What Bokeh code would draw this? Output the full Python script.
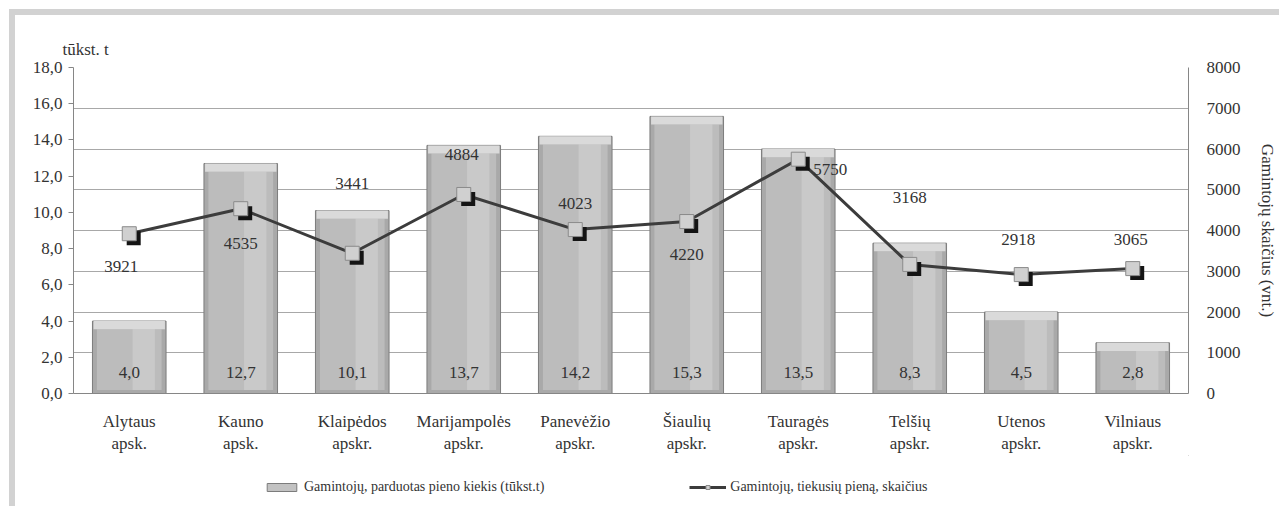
from bokeh.plotting import figure
from bokeh.layouts import column
from bokeh.models import (Range1d, FactorRange, LinearAxis, CategoricalAxis, SingleIntervalTicker,
                          CustomJSTickFormatter, ColumnDataSource, LabelSet, Legend,
                          LegendItem, Grid)
from bokeh.transform import dodge
from bokeh.embed import file_html
from bokeh.resources import INLINE

# ---- data ----
category_line1 = ["Alytaus", "Kauno", "Klaipėdos", "Marijampolės", "Panevėžio",
                  "Šiaulių", "Tauragės", "Telšių", "Utenos", "Vilniaus"]
category_line2 = ["apsk.", "apsk.", "apskr.", "apskr.", "apskr.",
                  "apskr.", "apskr.", "apskr.", "apskr.", "apskr."]
milk_sold_kt = [4.0, 12.7, 10.1, 13.7, 14.2, 15.3, 13.5, 8.3, 4.5, 2.8]
producers = [3921, 4535, 3441, 4884, 4023, 4220, 5750, 3168, 2918, 3065]
series_names = ["Gamintojų, parduotas pieno kiekis (tūkst.t)",
                "Gamintojų, tiekusių pieną, skaičius"]
left_unit = "tūkst. t"
right_title = "Gamintojų skaičius (vnt.)"

# label placement (pixels) for the producer-count labels
lbl_dx = [-8, 0, 0, -2, 0, 0, 32, 0, -3, -2]
lbl_dy = [-33, -35, 70, 40, 26, -33, -10, 67, 35, 29]

FONT = "Liberation Serif"
TXT = "#333333"
AX = "#868686"

src = ColumnDataSource(dict(
    cat=category_line1,
    milk=milk_sold_kt,
    milk_in=[v - 0.45 for v in milk_sold_kt],
    prod=producers,
    milk_lbl=[f"{v:.1f}".replace(".", ",") for v in milk_sold_kt],
    prod_lbl=[str(v) for v in producers],
    dx=lbl_dx, dy=lbl_dy,
))

p = figure(width=1264, height=440, x_range=FactorRange(*category_line1),
           y_range=Range1d(0, 18), output_backend="svg", toolbar_location=None,
           min_border_left=58, min_border_right=88, min_border_top=52, min_border_bottom=62)
p.extra_y_ranges = {"r": Range1d(0, 8000)}
p.outline_line_color = None
p.background_fill_color = "white"
p.border_fill_color = "white"

# title used as the left unit label
p.title.text = left_unit
p.title.text_font = FONT
p.title.text_font_size = "17px"
p.title.text_font_style = "normal"
p.title.text_color = TXT
p.title.offset = -11
p.title.standoff = 18

# grid follows the right axis
p.xgrid.visible = False
p.ygrid.visible = False

BAR_FILL, BAR_LINE = "#a9a9a9", "#7c7c7c"
p.vbar(x="cat", top="milk", width=0.66, source=src,
       fill_color=BAR_FILL, line_color=BAR_LINE, line_width=1)
p.vbar(x="cat", top="milk_in", bottom=0.2, width=0.58, source=src,
       fill_color="#bcbcbc", line_color=None)
p.vbar(x=dodge("cat", 0.13, range=p.x_range), top="milk_in", bottom=0.2, width=0.2, source=src,
       fill_color="#c9c9c9", line_color=None)
p.vbar(x="cat", top="milk", bottom="milk_in", width=0.64, source=src,
       fill_color="#dadada", line_color=None)

LINE_C = "#3c3c3c"
p.line(x="cat", y="prod", y_range_name="r", source=src, line_color=LINE_C, line_width=3)
p.scatter(x=dodge("cat", 0.04, range=p.x_range), y=dodge("prod", -110), y_range_name="r",
          source=src, marker="square", size=14, fill_color="#141414", line_color=None)
p.scatter(x="cat", y="prod", y_range_name="r", source=src, marker="square", size=14,
          fill_color="#d0d0d0", line_color="#8a8a8a", line_width=1)

# x axes: two label lines
xa = p.xaxis[0]
xa.major_tick_line_color = None
xa.major_tick_out = 0
xa.major_tick_in = 0
xa.minor_tick_line_color = None
xa.axis_line_color = AX
xa.major_label_standoff = 18
xa.major_label_text_font = FONT
xa.major_label_text_font_size = "17px"
xa.major_label_text_color = TXT

xa2 = CategoricalAxis(formatter=CustomJSTickFormatter(
    args=dict(keys=category_line1, vals=category_line2),
    code="return vals[keys.indexOf(tick)];"))
xa2.axis_line_color = None
xa2.major_tick_line_color = None
xa2.major_tick_out = 0
xa2.major_tick_in = 0
xa2.minor_tick_line_color = None
xa2.major_label_standoff = 0
xa2.major_label_text_font = FONT
xa2.major_label_text_font_size = "17px"
xa2.major_label_text_color = TXT
p.add_layout(xa2, "below")

# left axis
p.yaxis.ticker = SingleIntervalTicker(interval=2)
p.yaxis.formatter = CustomJSTickFormatter(code="return tick.toFixed(1).replace('.', ',');")
p.yaxis.major_tick_out = 5
p.yaxis.major_tick_in = 0
p.yaxis.major_tick_line_color = AX
p.yaxis.minor_tick_line_color = None
p.yaxis.axis_line_color = AX
p.yaxis.major_label_standoff = 6
p.yaxis.major_label_text_font = FONT
p.yaxis.major_label_text_font_size = "17px"
p.yaxis.major_label_text_color = TXT

# right axis
ra = LinearAxis(y_range_name="r", ticker=SingleIntervalTicker(interval=1000),
                axis_label=right_title)
ra.major_tick_line_color = None
ra.minor_tick_line_color = None
ra.axis_line_color = AX
ra.major_label_standoff = 12
ra.major_label_text_font = FONT
ra.major_label_text_font_size = "17px"
ra.major_label_text_color = TXT
ra.axis_label_text_font = FONT
ra.axis_label_text_font_size = "17px"
ra.axis_label_text_font_style = "normal"
ra.axis_label_text_color = TXT
ra.axis_label_standoff = 14
p.add_layout(ra, "right")

p.add_layout(Grid(dimension=1, ticker=ra.ticker, y_range_name="r",
                  grid_line_color="#a8a8a8", grid_line_width=1))

# value labels
p.add_layout(LabelSet(x="cat", y=0, text="milk_lbl", source=src, y_offset=21,
                      text_align="center", text_baseline="middle",
                      text_font=FONT, text_font_size="17px", text_color=TXT))
p.add_layout(LabelSet(x="cat", y="prod", y_range_name="r", text="prod_lbl", source=src,
                      x_offset="dx", y_offset="dy", text_align="center", text_baseline="middle",
                      text_font=FONT, text_font_size="17px", text_color=TXT))

# ---- legend strip (separate small figure below the chart) ----
lg = figure(width=1264, height=51, x_range=Range1d(0, 1), y_range=Range1d(0, 1),
            output_backend="svg", toolbar_location=None,
            x_axis_location=None, y_axis_location=None, min_border=0)
lg.outline_line_color = None
lg.xgrid.visible = False
lg.ygrid.visible = False
lg.border_fill_color = "white"
# legend-only renderers, kept outside the visible range
lb = lg.vbar(x=[5], top=[5], bottom=[4], width=0.1, fill_color="#c2c2c2", line_color=BAR_LINE)
ll = lg.line(x=[5, 6], y=[5, 5], line_color=LINE_C, line_width=3)
lm = lg.scatter(x=[5], y=[5], marker="square", size=12, fill_color="#d0d0d0",
                line_color="#8a8a8a")
legend = Legend(items=[LegendItem(label=series_names[0], renderers=[lb]),
                       LegendItem(label=series_names[1], renderers=[ll, lm])],
                location=(190, 11), orientation="horizontal", spacing=145,
                glyph_width=37, glyph_height=10, padding=0, margin=0, label_standoff=4,
                label_height=17,
                label_text_font=FONT, label_text_font_size="14px", label_text_color=TXT,
                border_line_alpha=0, background_fill_alpha=0)
lg.add_layout(legend, "center")

layout = column(p, lg, spacing=0)
layout.styles = {"border-top": "6px solid #d2d2d2", "border-left": "6px solid #d2d2d2",
                 "margin-top": "9px", "margin-left": "9px", "box-sizing": "content-box"}

open("out.html", "w").write(file_html(layout, INLINE))
